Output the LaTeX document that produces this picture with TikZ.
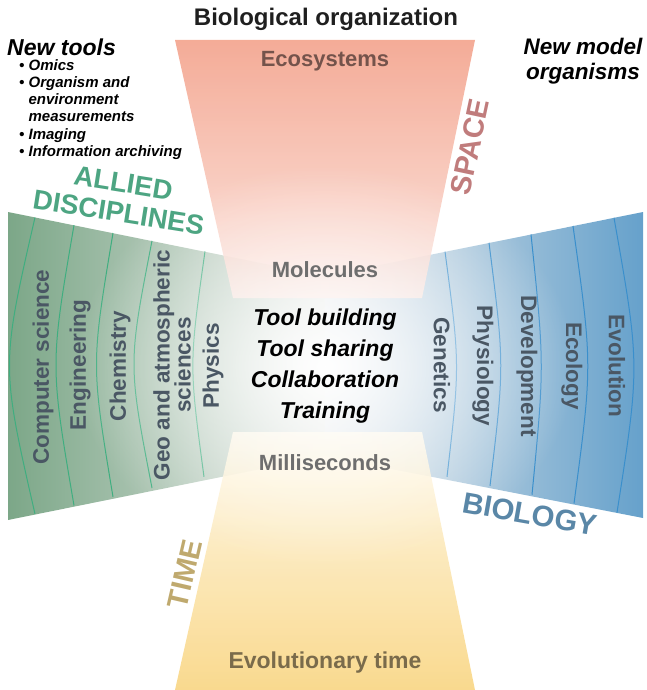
\documentclass[tikz,border=0pt]{standalone}
\usepackage{fontspec}
\setmainfont{Liberation Sans}
\usetikzlibrary{fadings}
\tikzfading[name=glowfade, inner color=transparent!0, outer color=transparent!100]
\definecolor{wingG}{HTML}{7CA788}
\definecolor{wingGm}{HTML}{E4E7E4}
\definecolor{wingB}{HTML}{66A1CB}
\definecolor{wingBm}{HTML}{E4E8EB}
\definecolor{arcG}{HTML}{3FAE80}
\definecolor{arcB}{HTML}{3A8FCC}
\definecolor{topA}{HTML}{F3A089}
\definecolor{topB}{HTML}{FBE2DB}
\definecolor{botA}{HTML}{FFF7E4}
\definecolor{botB}{HTML}{F8D47F}
\definecolor{labelC}{HTML}{4A5764}
\definecolor{greyC}{HTML}{6E6E6E}
\definecolor{ecoC}{HTML}{74534B}
\definecolor{evoC}{HTML}{7A6B4B}
\definecolor{alliedC}{HTML}{4DA582}
\definecolor{spaceC}{HTML}{C07C7C}
\definecolor{timeC}{HTML}{BFA96E}
\definecolor{bioC}{HTML}{5A87A7}
\tikzset{
  wlabel/.style={font=\bfseries\fontsize{22.5}{21}\selectfont, text=labelC, inner sep=0pt, align=center},
  levelC/.style={font=\bfseries\fontsize{22}{26}\selectfont, inner sep=0pt},
  bigcap/.style={font=\bfseries\fontsize{29}{30}\selectfont, inner sep=0pt, align=center},
  arcline/.style={line width=1pt},
}
\begin{document}
\begin{tikzpicture}[x=1pt,y=-1pt]
\useasboundingbox (0,0) rectangle (646,690);
% wings
\shade[left color=wingG, right color=wingGm] (8,212) -- (325,276) -- (325,456) -- (8,520) -- cycle;
\shade[left color=wingBm, right color=wingB] (643,212) -- (325,276) -- (325,456) -- (643,518) -- cycle;
% arcs left
\draw[arcline, arcG] (35,217.4) .. controls (1,365.5) .. (35,514);
\draw[arcline, arcG] (74,225.2) .. controls (50,365) .. (74,505.5);
\draw[arcline, arcG] (113,233) .. controls (91,364.5) .. (113,496.9);
\draw[arcline, arcG] (152,240.8) .. controls (128,364) .. (152,488);
\draw[arcline, arcG] (205,251.4) .. controls (189,364.5) .. (204,476.9);
% arcs right
\draw[arcline, arcB] (445,251.6) .. controls (460,364.5) .. (447,476.8);
\draw[arcline, arcB] (489,242.8) .. controls (504.5,365) .. (490,485.9);
\draw[arcline, arcB] (531,234.4) .. controls (544.5,365) .. (532,494.7);
\draw[arcline, arcB] (573,226) .. controls (592.5,365) .. (574,503.5);
\draw[arcline, arcB] (614,217.8) .. controls (640,365) .. (617,512.5);
% funnels
\shade[top color=topA, bottom color=topB, fill opacity=0.88] (175,40) -- (475,40) -- (422,298) -- (233,298) -- cycle;
\shade[top color=botA, bottom color=botB, fill opacity=0.88] (233,432) -- (422,432) -- (475,690) -- (175,690) -- cycle;
% glow
\fill[white, path fading=glowfade] (325,366) ellipse (250 and 200);
% texts
\node[levelC, text=black!88, font=\bfseries\fontsize{24}{28}\selectfont] (title) at (326,19) {Biological organization};
\node[levelC, text=ecoC] (eco) at (325,61) {Ecosystems};
\node[levelC, text=greyC] (mol) at (325,270) {Molecules};
\node[levelC, text=greyC] (ms) at (325,463) {Milliseconds};
\node[levelC, text=evoC, font=\bfseries\fontsize{23}{26}\selectfont] (evo) at (325,663) {Evolutionary time};
\node[inner sep=0pt, align=center, font=\bfseries\itshape\fontsize{23}{31}\selectfont] (center) at (325,366)
  {Tool building\\Tool sharing\\Collaboration\\Training};
\node[inner sep=0pt, anchor=west, font=\bfseries\itshape\fontsize{23}{26}\selectfont] (newtools) at (7,47) {New tools};
\node[inner sep=0pt, anchor=north west, align=left, font=\bfseries\itshape\fontsize{15}{17.3}\selectfont] (tools) at (19,59)
  {• Omics\\• Organism and\\\phantom{• }environment\\\phantom{• }measurements\\• Imaging\\• Information archiving};
\node[inner sep=0pt, align=center, font=\bfseries\itshape\fontsize{22.5}{25}\selectfont] (newmodel) at (583,61) {New model\\organisms};
% big captions
\node[bigcap, text=alliedC, font=\bfseries\fontsize{27.5}{30}\selectfont, rotate=-9] (allied) at (121,198) {ALLIED\\DISCIPLINES};
\node[bigcap, text=spaceC, rotate=78] (space) at (470,147) {SPACE};
\node[bigcap, text=timeC, rotate=77] (time) at (185,574) {TIME};
\node[bigcap, text=bioC, font=\bfseries\fontsize{29.5}{30}\selectfont, rotate=-10] (bio) at (530,514) {BIOLOGY};
% left labels
\node[wlabel, rotate=90] (cs) at (43,367) {Computer science};
\node[wlabel, rotate=90] (eng) at (80,365) {Engineering};
\node[wlabel, rotate=90] (chem) at (120,366) {Chemistry};
\node[wlabel, rotate=90] (geo) at (172,365) {Geo and atmospheric\\sciences};
\node[wlabel, rotate=90] (phys) at (213,366) {Physics};
% right labels
\node[wlabel, rotate=-90] (gen) at (442,365) {Genetics};
\node[wlabel, rotate=-90] (physio) at (483,366) {Physiology};
\node[wlabel, rotate=-90] (dev) at (527,366) {Development};
\node[wlabel, rotate=-90] (ecol) at (572,366) {Ecology};
\node[wlabel, rotate=-90] (evol) at (617,366) {Evolution};
\end{tikzpicture}
\end{document}
